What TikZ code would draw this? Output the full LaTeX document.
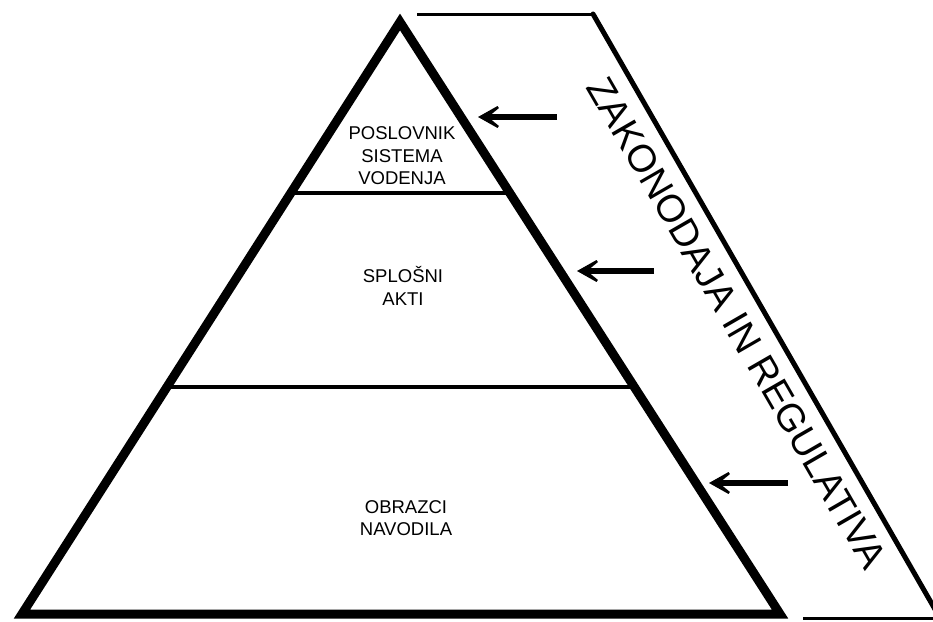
\documentclass[tikz,border=0pt]{standalone}
\usepackage{fontspec}
\setmainfont{Liberation Sans}
\usetikzlibrary{calc,arrows.meta}

\begin{document}
\begin{tikzpicture}[x=1pt,y=-1pt]
    % Define styles
    \tikzstyle{level}=[align=center, font=\fontsize{18.5}{22.5}\selectfont, inner sep=0pt]
    \tikzstyle{pointer}=[-{Stealth[length=32pt,width=36pt,inset=22pt]}, line width=6pt]
    \tikzstyle{edge}=[line width=9pt, line join=miter]
    \tikzstyle{divider}=[line width=4pt]
    \tikzstyle{thinband}=[line width=3pt]
    \tikzstyle{thickband}=[line width=5pt]

    \useasboundingbox (0,0) rectangle (933,621);

    % Place pyramid corners
    \coordinate (apex) at (400,22);
    \coordinate (bl) at (22,614);
    \coordinate (br) at (780,614);

    % Place level borders
    \coordinate (d1l) at ($(apex)!0.2889!(bl)$);
    \coordinate (d1r) at ($(apex)!0.2889!(br)$);
    \coordinate (d2l) at ($(apex)!0.6166!(bl)$);
    \coordinate (d2r) at ($(apex)!0.6166!(br)$);

    % Draw pyramid
    \draw[edge] (apex) -- (bl) -- (br) -- cycle;
    \draw[divider] (d1l) -- (d1r);
    \draw[divider] (d2l) -- (d2r);

    % Level labels
    \node[level] (poslovnik) at (402,156) {POSLOVNIK\\SISTEMA\\VODENJA};
    \node[level] (splosni) at (403,286) {SPLOŠNI\\AKTI};
    \node[level] (obrazci) at (406,518) {OBRAZCI\\NAVODILA};

    % Place legislation band
    \coordinate (bandtl) at (417,14);
    \coordinate (bandtr) at (593,14);
    \coordinate (bandbr) at (940,618);
    \coordinate (bandbl) at (803,618);
    \draw[thinband] (bandtl) -- (bandtr);
    \draw[thickband, line cap=round] (bandtr) -- (bandbr);
    \draw[thinband] (bandbl) -- (bandbr);
    \node[rotate=-60, font=\fontsize{38.5}{40}\selectfont, inner sep=0pt] (law) at (737,323) {ZAKONODAJA IN REGULATIVA};

    % Arrows from band to pyramid
    \coordinate (t1) at (557,117);
    \coordinate (h1) at (478,117);
    \coordinate (t2) at (654,271);
    \coordinate (h2) at (577,271);
    \coordinate (t3) at (788,483);
    \coordinate (h3) at (709,483);
    \draw[pointer] (t1) -- (h1);
    \draw[pointer] (t2) -- (h2);
    \draw[pointer] (t3) -- (h3);
\end{tikzpicture}
\end{document}
